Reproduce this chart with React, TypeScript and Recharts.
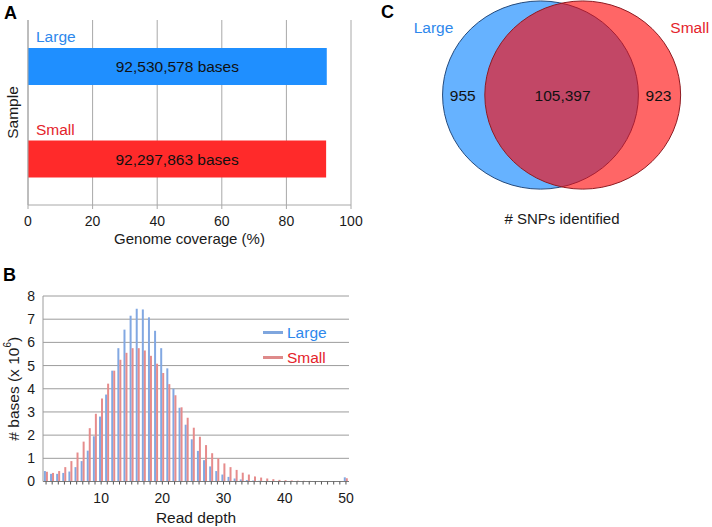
import React from "react";
import {
  BarChart,
  Bar,
  XAxis,
  YAxis,
  CartesianGrid,
  LabelList,
  Legend,
  Cell,
  ScatterChart,
  Scatter,
} from "recharts";

const FONT = "'Liberation Sans', Arial, Helvetica, sans-serif";

// Panel A: genome coverage
const samples = ["Large", "Small"];
const coveragePct = [92.5, 92.3];
const coverageBases = [92530578, 92297863];
const coverageTicks = [0, 20, 40, 60, 80, 100];

// Panel B: read depth histogram (# bases, x 10^6)
const depths = [
  1, 2, 3, 4, 5, 6, 7, 8, 9, 10, 11, 12, 13, 14, 15, 16, 17, 18, 19, 20, 21, 22, 23, 24, 25,
  26, 27, 28, 29, 30, 31, 32, 33, 34, 35, 36, 37, 38, 39, 40, 41, 42, 43, 44, 45, 46, 47, 48, 49, 50,
];
const largeCounts = [
  0.45, 0.33, 0.33, 0.37, 0.43, 0.62, 0.88, 1.33, 1.95, 2.8, 3.75, 4.78, 5.75, 6.55, 7.15, 7.45,
  7.42, 7.08, 6.5, 5.75, 4.88, 4.0, 3.18, 2.45, 1.82, 1.32, 0.92, 0.65, 0.45, 0.3, 0.2, 0.13, 0.09,
  0.06, 0.04, 0.03, 0.02, 0.015, 0.01, 0.01, 0.008, 0.007, 0.006, 0.006, 0.005, 0.005, 0.005, 0.004,
  0.004, 0.18,
];
const smallCounts = [
  0.42, 0.37, 0.45, 0.62, 0.88, 1.25, 1.72, 2.3, 2.92, 3.58, 4.22, 4.78, 5.25, 5.55, 5.75, 5.75,
  5.65, 5.42, 5.08, 4.68, 4.2, 3.72, 3.2, 2.75, 2.32, 1.93, 1.57, 1.22, 1.0, 0.78, 0.62, 0.5, 0.38,
  0.3, 0.22, 0.17, 0.13, 0.1, 0.07, 0.055, 0.045, 0.035, 0.03, 0.025, 0.02, 0.02, 0.015, 0.015,
  0.012, 0.14,
];
const countTicks = [0, 1, 2, 3, 4, 5, 6, 7, 8];

// Panel C: SNP Venn
const vennSets = ["Large", "Small"];
const vennCounts = [955, 105397, 923]; // Large only, shared, Small only

const blueText = "#2e88ec";
const redText = "#e4232b";

const coverageData = samples.map((name, i) => ({
  name,
  pct: coveragePct[i],
  bases: coverageBases[i],
}));
const coverageColors = ["#1f8fff", "#ff2a2a"];

const depthData = depths.map((depth, i) => ({
  depth,
  large: largeCounts[i],
  small: smallCounts[i],
}));

// venn geometry, in units of one circle radius
const UNIT = 96;
const setCenterX = [-0.22, 0.22];
const regionX = [-1.03, 0.01, 1.01];
const vennSetData = vennSets.map((name, i) => ({ name, x: setCenterX[i], y: 0 }));
const vennRegionData = vennCounts.map((count, i) => ({ count, x: regionX[i], y: 0 }));

function RotatedLabel({ viewBox, dx, children }: any) {
  const vb = viewBox || { x: 0, y: 0, width: 0, height: 0 };
  const cx = vb.x + dx;
  const cy = vb.y + vb.height / 2;
  return (
    <text
      x={cx}
      y={cy}
      transform={`rotate(-90 ${cx} ${cy})`}
      textAnchor="middle"
      dominantBaseline="central"
      fontSize={15.5}
      fill="#1a1a1a"
    >
      {children}
    </text>
  );
}

function SampleName(props: any) {
  const { x, y, value, index } = props;
  return (
    <text x={x + 8} y={y - 6} fontSize={15.5} fill={index === 0 ? blueText : redText}>
      {value}
    </text>
  );
}

function SetEllipse(props: any) {
  const { cx, cy, payload } = props;
  const isLarge = payload.name === "Large";
  const side = isLarge ? -1 : 1;
  return (
    <g>
      <ellipse
        cx={cx}
        cy={cy}
        rx={1.02 * UNIT}
        ry={0.98 * UNIT}
        fill={isLarge ? "#66b2ff" : "#ff0000"}
        fillOpacity={isLarge ? 1 : 0.6}
        stroke={isLarge ? "#244a7c" : "#8e1b22"}
        strokeWidth={1}
      />
      <text
        x={cx + side * 107}
        y={cy - 68}
        textAnchor="middle"
        dominantBaseline="central"
        fontSize={15.5}
        fill={isLarge ? blueText : redText}
      >
        {payload.name}
      </text>
    </g>
  );
}

function RegionCount(props: any) {
  const { cx, cy, payload } = props;
  return (
    <text x={cx} y={cy} textAnchor="middle" dominantBaseline="central" fontSize={15.5} fill="#111">
      {payload.count.toLocaleString("en-US")}
    </text>
  );
}

function DepthLegend() {
  const rows = [
    { name: "Large", line: "#7fa6de", text: blueText },
    { name: "Small", line: "#de8a8a", text: redText },
  ];
  return (
    <div style={{ fontFamily: FONT }}>
      {rows.map((r) => (
        <div key={r.name} style={{ display: "flex", alignItems: "center", height: 25 }}>
          <span style={{ width: 20, height: 3, background: r.line, marginRight: 4 }} />
          <span style={{ fontSize: 15.5, color: r.text }}>{r.name}</span>
        </div>
      ))}
    </div>
  );
}

const letter: React.CSSProperties = {
  position: "absolute",
  fontWeight: "bold",
  fontSize: 18,
  lineHeight: "18px",
  color: "#000",
};

export default function App() {
  return (
    <div
      style={{
        position: "absolute",
        left: 0,
        top: 0,
        width: 712,
        height: 527,
        background: "#fff",
        fontFamily: FONT,
        overflow: "hidden",
      }}
    >
      <div style={{ ...letter, left: 4, top: 4 }}>A</div>
      <div style={{ ...letter, left: 3, top: 266 }}>B</div>
      <div style={{ ...letter, left: 381, top: 3 }}>C</div>

      {/* A: genome coverage */}
      <div style={{ position: "absolute", left: 0, top: 0 }}>
        <BarChart
          layout="vertical"
          width={372}
          height={250}
          data={coverageData}
          margin={{ top: 20, right: 21, left: 0, bottom: 0 }}
          barSize={37}
        >
          <CartesianGrid horizontal={false} stroke="#a8a8a8" />
          <XAxis
            type="number"
            dataKey="pct"
            domain={[0, 100]}
            ticks={coverageTicks}
            tickSize={4}
            tickMargin={7}
            stroke="#a8a8a8"
            tick={{ fill: "#1a1a1a", fontSize: 14 }}
            height={45}
            label={{ value: "Genome coverage (%)", position: "insideBottom", offset: 6, fontSize: 15, fill: "#1a1a1a" }}
          />
          <XAxis
            xAxisId="top"
            orientation="top"
            type="number"
            domain={[0, 100]}
            height={0}
            tick={false}
            tickLine={false}
            stroke="#a8a8a8"
          />
          <YAxis
            type="category"
            dataKey="name"
            width={28}
            tick={false}
            tickLine={false}
            stroke="#a8a8a8"
            label={{ content: (p: any) => <RotatedLabel {...p} dx={12}>Sample</RotatedLabel> }}
          />
          <Bar dataKey="pct" isAnimationActive={false}>
            {coverageData.map((d, i) => (
              <Cell key={d.name} fill={coverageColors[i]} />
            ))}
            <LabelList
              dataKey="bases"
              position="center"
              formatter={(v: any) => `${Number(v).toLocaleString("en-US")} bases`}
              fill="#111"
              fontSize={15.5}
            />
            <LabelList dataKey="name" content={SampleName} />
          </Bar>
        </BarChart>
      </div>

      {/* B: read depth */}
      <div style={{ position: "absolute", left: 0, top: 270 }}>
        <BarChart
          width={360}
          height={257}
          data={depthData}
          margin={{ top: 26, right: 11, left: 0, bottom: 3.5 }}
          barCategoryGap="15%"
          barGap={0}
        >
          <CartesianGrid vertical={false} stroke="#9c9c9c" />
          <XAxis
            dataKey="depth"
            interval={0}
            tickFormatter={(d: any) => (Number(d) % 10 === 0 ? String(d) : "")}
            tickSize={3}
            tickMargin={9}
            tickLine={{ stroke: "#555" }}
            axisLine={{ stroke: "#7a7a7a" }}
            tick={{ fill: "#1a1a1a", fontSize: 14 }}
            height={42}
            label={{ value: "Read depth", position: "insideBottom", offset: 1, fontSize: 15.5, fill: "#1a1a1a" }}
          />
          <YAxis
            domain={[0, 8]}
            ticks={countTicks}
            width={43}
            tickLine={false}
            axisLine={{ stroke: "#9c9c9c" }}
            tick={{ fill: "#1a1a1a", fontSize: 14 }}
            label={{
              content: (p: any) => (
                <RotatedLabel {...p} dx={13}>
                  # bases (x 10
                  <tspan dy={-6} fontSize={10}>6</tspan>
                  <tspan dy={6}>)</tspan>
                </RotatedLabel>
              ),
            }}
          />
          <YAxis
            yAxisId="frame"
            orientation="right"
            domain={[0, 8]}
            width={0}
            tick={false}
            tickLine={false}
            axisLine={{ stroke: "#bdbdbd" }}
          />
          <Legend
            layout="horizontal"
            verticalAlign="middle"
            align="center"
            wrapperStyle={{ left: 263, top: 50, width: "auto" }}
            content={() => <DepthLegend />}
          />
          <Bar dataKey="large" fill="#82a8e2" isAnimationActive={false} />
          <Bar dataKey="small" fill="#e68c8c" isAnimationActive={false} />
        </BarChart>
      </div>

      {/* C: SNP venn */}
      <div style={{ position: "absolute", left: 360, top: 0 }}>
        <ScatterChart width={352} height={240} margin={{ top: 0, right: 0, bottom: 0, left: 0 }}>
          <XAxis type="number" dataKey="x" domain={[-2.1, 1.5667]} hide allowDataOverflow />
          <YAxis type="number" dataKey="y" domain={[-1.51, 0.99]} hide allowDataOverflow />
          <Scatter data={vennSetData} shape={SetEllipse} isAnimationActive={false} />
          <Scatter data={vennRegionData} shape={RegionCount} isAnimationActive={false} />
        </ScatterChart>
      </div>
      <div
        style={{
          position: "absolute",
          left: 462,
          width: 200,
          top: 210,
          textAlign: "center",
          fontSize: 15,
          lineHeight: "18px",
          color: "#1a1a1a",
        }}
      >
        # SNPs identified
      </div>
    </div>
  );
}
